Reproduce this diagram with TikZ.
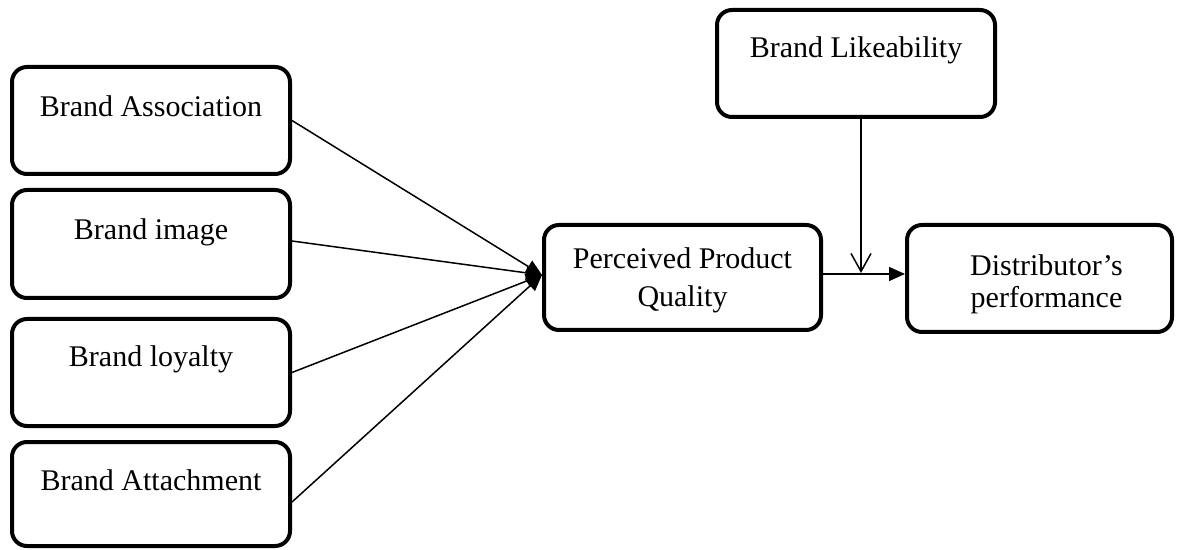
\documentclass[tikz,border=0pt]{standalone}
\usepackage{fontspec}
\setmainfont{Liberation Serif}
\usetikzlibrary{arrows.meta}
\begin{document}
\begin{tikzpicture}[x=0.5pt,y=-0.5pt,
  box/.style={draw, line width=2pt, rounded corners=7.5pt, inner sep=0pt,
    font=\fontsize{15}{19}\selectfont, align=center},
  conn/.style={line width=0.75pt},
  filltip/.style={-{Triangle[length=8pt,width=7pt]}},
  opentip/.style={-{Straight Barb[length=9pt,width=10pt,line width=0.75pt]}}]
\useasboundingbox (0,0) rectangle (1177,550);
% left column
\node[box, minimum width=139pt, text height=25pt, text depth=28.5pt] (b1) at (151,120.5) {Brand Association};
\node[box, minimum width=139pt, text height=25pt, text depth=29pt] (b2) at (151,244) {Brand image};
\node[box, minimum width=139pt, text height=24pt, text depth=29.5pt] (b3) at (151,372.5) {Brand loyalty};
\node[box, minimum width=139pt, text height=24pt, text depth=28pt] (b4) at (151,494) {Brand Attachment};
% top
\node[box, minimum width=139pt, text height=24pt, text depth=29.5pt] (lk) at (856,63.5) {Brand Likeability};
% middle
\node[box, minimum width=138.5pt, text height=41pt, text depth=11.5pt] (pq) at (682.5,277.5) {Perceived Product\\Quality};
% right
\node[box, minimum width=132.5pt, text height=41.5pt, text depth=12pt] (dp) at (1039.5,278.5) {\hspace*{7pt}Distributor’s\\[-2.5pt]\hspace*{7pt}performance};
% connectors
\coordinate (conv) at (542,275);
\draw[conn, filltip] (b1.east) -- (conv);
\draw[conn, filltip] ([yshift=1.5pt]b2.east) -- (conv);
\draw[conn, filltip] (b3.east) -- (conv);
\draw[conn, filltip] ([yshift=-4pt]b4.east) -- (conv);
\coordinate (hline) at (823,274);
\draw[conn, filltip] (hline) -- (hline -| dp.west);
\coordinate (meet) at (861,273);
\draw[conn, opentip] (lk.south -| meet) -- (meet);
\end{tikzpicture}
\end{document}
